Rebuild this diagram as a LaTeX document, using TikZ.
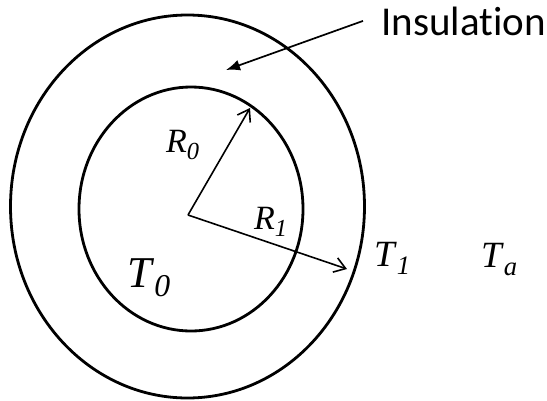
\documentclass[tikz,border=0pt]{standalone}
\usepackage{fontspec}
\setmainfont{Liberation Serif}
\newfontfamily\insfont[Ligatures=NoCommon]{Carlito}
\usetikzlibrary{arrows.meta}
\newcommand{\subvar}[3]{\fontsize{#3}{#3}\selectfont\textit{#1}\raisebox{-0.22em}{\fontsize{0.72\dimexpr #3pt\relax}{#3}\selectfont\textit{#2}}}

\begin{document}
\begin{tikzpicture}[x=1pt, y=-1pt,
    ring/.style={line width=2.8pt},
    radius arrow/.style={line width=1.6pt, -{Straight Barb[length=11pt,width=15pt,line width=1.6pt]}},
    lbl/.style={anchor=base west, inner sep=0pt}]
  \useasboundingbox (0,0) rectangle (547,400);
    \draw[ring] (187.5,206.5) ellipse [x radius=177, y radius=191.5];
    \draw[ring] (191,209) ellipse [x radius=112, y radius=122];
    \coordinate (c) at (188,215);
    \coordinate (r0) at (250,108);
    \coordinate (r1) at (347,269);
    \coordinate (instip) at (226,70);
    \draw[radius arrow] (c) -- (r0);
    \draw[radius arrow] (c) -- (r1);
    \node[lbl] (lr0) at (166,152) {\subvar{R}{0}{34}};
    \node[lbl] (lr1) at (254,229) {\subvar{R}{1}{34}};
    \node[lbl] (lt0) at (127,287) {\subvar{T}{0}{44}};
    \node[lbl] (lt1) at (374,266) {\subvar{T}{1}{37}};
    \node[lbl] (lta) at (481,267) {\subvar{T}{a}{37}};
    \node[anchor=base west, inner xsep=18pt, inner ysep=0pt] (ins) at (363,35) {\insfont\fontsize{41}{41}\selectfont Insulation};
    \draw[line width=1.7pt, -{Latex[length=14pt,width=11pt]}] (ins.west) -- (instip);
  \end{tikzpicture}
\end{document}
